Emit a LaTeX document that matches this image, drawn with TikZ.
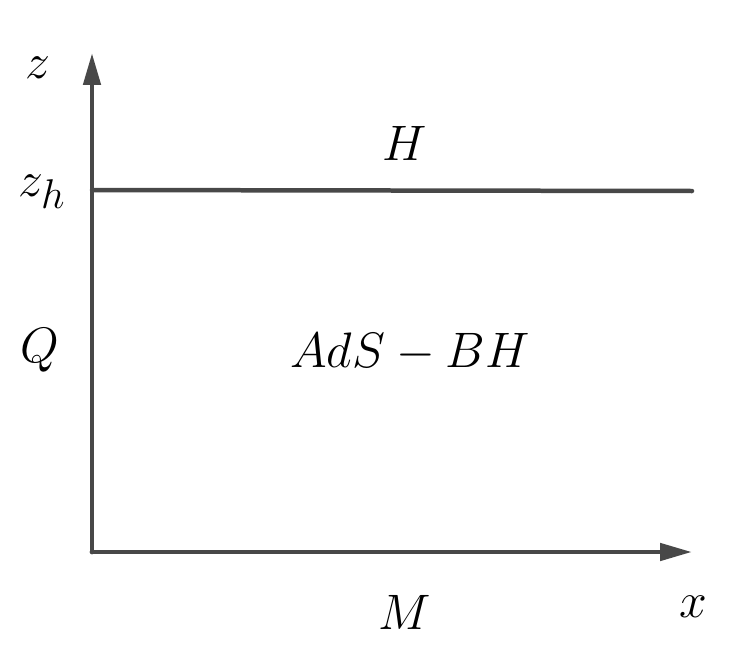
\documentclass[tikz,border=0pt]{standalone}
\usepackage{amsmath}
\usepackage{tikz}
\usetikzlibrary{arrows.meta, positioning, calc}
\definecolor{axisgray}{RGB}{72,72,72}

\begin{document}
\begin{tikzpicture}[
    x=0.02cm, y=0.02cm,
    axis line/.style={draw=axisgray, line width=0.095cm, line cap=round,
                      -{Triangle[length=0.64cm, width=0.34cm]}},
    horizon line/.style={draw=axisgray, line width=0.09cm, line cap=round},
    every node/.style={font=\Huge, scale=1.14, inner sep=0pt}
]
    % canvas of the reference
    \useasboundingbox (0,0) rectangle (754,654);
    % axes
    \coordinate (O) at (92,102);
    \coordinate (ztip) at (92,601);
    \coordinate (xtip) at (692,102);
    \coordinate (hleft) at (92,464);
    \coordinate (hright) at (692,463);
    \draw[axis line] (O) -- (ztip);
    \draw[axis line] (O) -- (xtip);
    % horizon
    \draw[horizon line] (hleft) -- (hright);
    % labels
    \node (zlabel) at (38,586) {$z$};
    \node (zhlabel) at (42,462) {$z_h$};
    \node (Qlabel) at (40,304) {$Q$};
    \node (Hlabel) at (405,511) {$H$};
    \node (bulk) at (410,302) {$AdS-BH$};
    \node (Mlabel) at (405,42) {$M$};
    \node (xlabel) at (693,47) {$x$};
\end{tikzpicture}
\end{document}
